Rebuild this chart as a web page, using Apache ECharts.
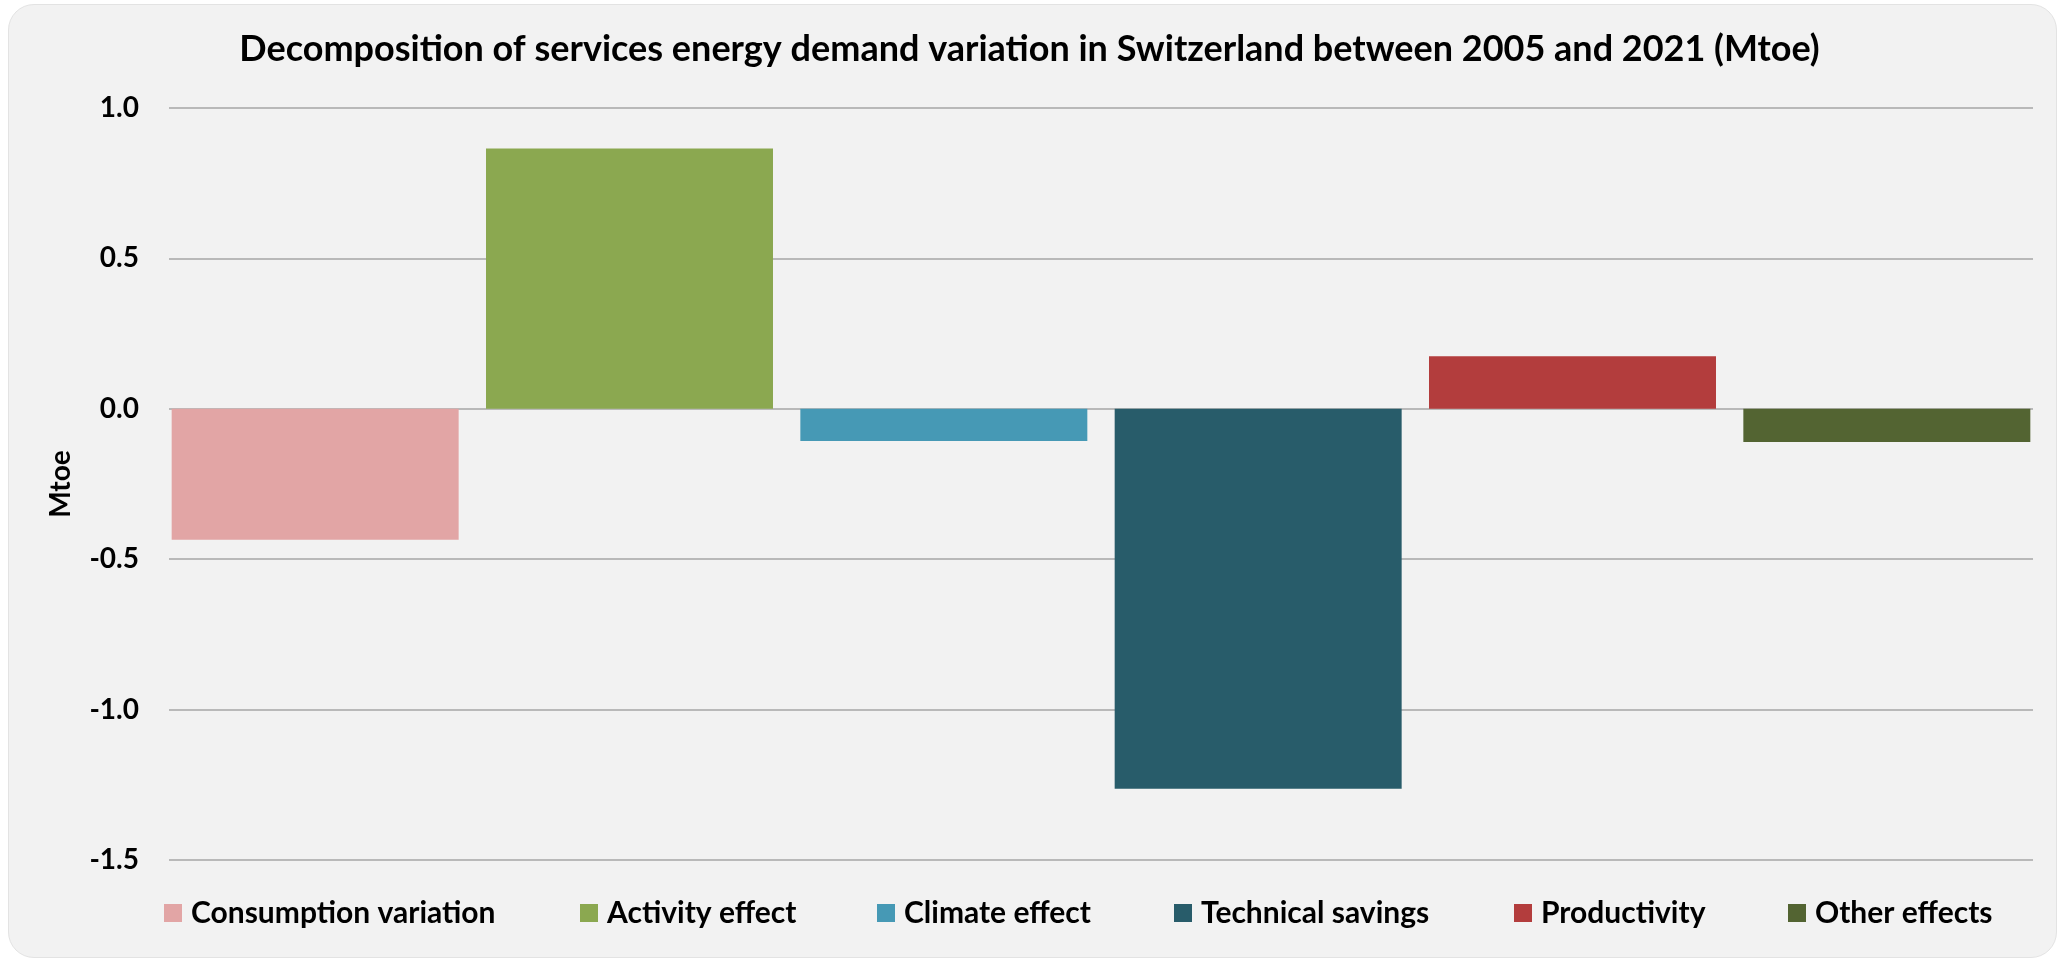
<!DOCTYPE html>
<html>
<head>
<meta charset="utf-8">
<title>Services energy demand decomposition - Switzerland</title>
<script src="https://cdn.jsdelivr.net/npm/echarts@6/dist/echarts.min.js"></script>
<style>
  html, body { margin: 0; padding: 0; background: #ffffff; }
  .frame {
    position: absolute; left: 8px; top: 4px; width: 2047px; height: 952px;
    background: #f2f2f2; border: 1px solid #e3e3e3; border-radius: 26px;
  }
  #chart { position: absolute; left: 0; top: 0; width: 2059px; height: 959px; }
</style>
</head>
<body>
<div class="frame"></div>
<div id="chart"></div>
<script>
const categories = ['Consumption variation', 'Activity effect', 'Climate effect', 'Technical savings', 'Productivity', 'Other effects']
const values = [-0.435, 0.865, -0.107, -1.263, 0.175, -0.110]
const yTicks = [-1.5, -1.0, -0.5, 0.0, 0.5, 1.0]

const colors = ['#e2a5a5', '#8ba850', '#4699b5', '#285c6a', '#b33d3d', '#536432']
const legendLeft = [164, 580, 877, 1174, 1514, 1788]
const font = 'Lato'

const chart = echarts.init(document.getElementById('chart'))

const valueAxis = (show) => ({
  type: 'value',
  gridIndex: show ? 0 : 1,
  min: yTicks[0],
  max: yTicks[yTicks.length - 1],
  interval: 0.5,
  show: show,
  axisLine: { show: false },
  axisTick: { show: false },
  splitLine: { show: show, lineStyle: { color: '#a6a6a6', width: 1.6 } }
})

const option = {
  backgroundColor: 'transparent',
  animation: false,
  title: {
    text: 'Decomposition of services energy demand variation in Switzerland between 2005 and 2021 (Mtoe)',
    left: 'center',
    top: 31,
    padding: 0,
    textStyle: {
      fontFamily: font,
      fontWeight: 'bold',
      fontSize: 36,
      color: '#000000'
    }
  },
  // one legend per item so each sits where it does in the original
  legend: categories.map((name, i) => ({
    data: [name],
    left: legendLeft[i],
    top: 898,
    padding: 0,
    icon: 'rect',
    itemWidth: 18,
    itemHeight: 18,
    selectedMode: false,
    textStyle: {
      fontFamily: font,
      fontWeight: 'bold',
      fontSize: 30,
      color: '#000000',
      padding: [0, 0, 0, 4]
    }
  })),
  // grid 0 carries the gridlines and labels, grid 1 (a bit wider) carries the bars
  grid: [
    { left: 169, right: 26, top: 108, bottom: 99 },
    { left: 158, right: 15, top: 108, bottom: 99 }
  ],
  xAxis: [
    { type: 'category', gridIndex: 0, data: categories, show: false },
    { type: 'category', gridIndex: 1, data: categories, show: false }
  ],
  yAxis: [
    Object.assign(valueAxis(true), {
      name: 'Mtoe',
      nameLocation: 'middle',
      nameGap: 94,
      nameTextStyle: {
        fontFamily: font,
        fontWeight: 'bold',
        fontSize: 28,
        color: '#000000'
      },
      axisLabel: {
        margin: 30,
        fontFamily: font,
        fontWeight: 'bold',
        fontSize: 28,
        color: '#000000',
        formatter: v => v.toFixed(1)
      }
    }),
    valueAxis(false)
  ],
  series: categories.map((name, i) => ({
    name: name,
    type: 'bar',
    xAxisIndex: 1,
    yAxisIndex: 1,
    stack: 'total',
    barWidth: '91.3%',
    itemStyle: { color: colors[i] },
    data: values.map((v, j) => (j === i ? v : '-'))
  }))
}

chart.setOption(option)

window.addEventListener('resize', () => chart.resize())
</script>
</body>
</html>
